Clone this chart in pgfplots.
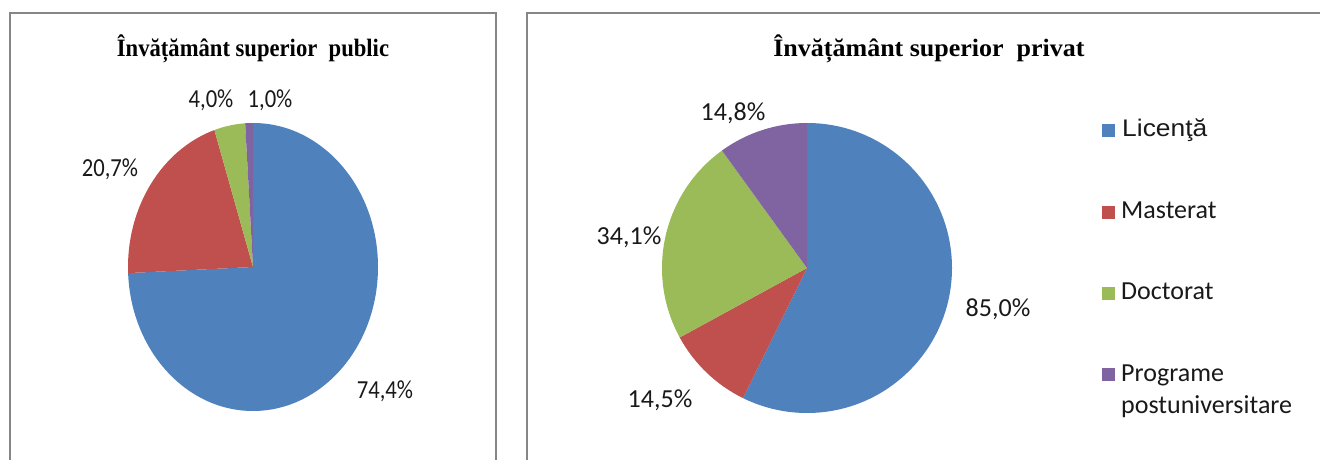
\documentclass[border=0pt]{standalone}
\usepackage{pgfplots}
\pgfplotsset{compat=1.18}
\usepackage{pgfplotstable}
\usepackage{graphicx}
\usepackage{fontspec}
\setmainfont{Liberation Serif}
\newfontfamily\calibri{Carlito}
\newfontfamily\arialfont{Liberation Sans}
\definecolor{cblue}{HTML}{4F81BD}
\definecolor{cred}{HTML}{C0504D}
\definecolor{cgreen}{HTML}{9BBB59}
\definecolor{cpurple}{HTML}{8064A2}
\definecolor{frame}{HTML}{868686}

\pgfplotstableread{
cat value
Licenta 74.4
Masterat 20.7
Doctorat 4.0
Programe 1.0
}\publicdata
\pgfplotstableread{
cat value
Licenta 85.0
Masterat 14.5
Doctorat 34.1
Programe 14.8
}\privatedata

\begin{document}
\begin{tikzpicture}
% read values
\pgfplotstablegetelem{0}{value}\of\publicdata\let\pubA\pgfplotsretval
\pgfplotstablegetelem{1}{value}\of\publicdata\let\pubB\pgfplotsretval
\pgfplotstablegetelem{2}{value}\of\publicdata\let\pubC\pgfplotsretval
\pgfplotstablegetelem{3}{value}\of\publicdata\let\pubD\pgfplotsretval
\pgfplotstablegetelem{0}{value}\of\privatedata\let\priA\pgfplotsretval
\pgfplotstablegetelem{1}{value}\of\privatedata\let\priB\pgfplotsretval
\pgfplotstablegetelem{2}{value}\of\privatedata\let\priC\pgfplotsretval
\pgfplotstablegetelem{3}{value}\of\privatedata\let\priD\pgfplotsretval
\pgfmathsetmacro\pubS{\pubA+\pubB+\pubC+\pubD}
\pgfmathsetmacro\pa{90-(\pubA/\pubS)*360}
\pgfmathsetmacro\pb{90-((\pubA+\pubB)/\pubS)*360}
\pgfmathsetmacro\pc{90-((\pubA+\pubB+\pubC)/\pubS)*360}
\pgfmathsetmacro\priS{\priA+\priB+\priC+\priD}
\pgfmathsetmacro\qa{90-(\priA/\priS)*360}
\pgfmathsetmacro\qb{90-((\priA+\priB)/\priS)*360}
\pgfmathsetmacro\qc{90-((\priA+\priB+\priC)/\priS)*360}
\begin{axis}[x=1pt, y=1pt, xmin=0, xmax=1320, ymin=0, ymax=460,
  hide axis, clip=false]
% frames
\draw[frame, line width=2.6pt] (axis cs:10,-10) -- (axis cs:10,447) -- (axis cs:496,447) -- (axis cs:496,-10);
\draw[frame, line width=2.6pt] (axis cs:527,-10) -- (axis cs:527,447) -- (axis cs:1330,447);
% public pie (ellipse 125 x 144)
\fill[cblue] (axis cs:253,193) -- +(90:125pt and 144pt) arc[start angle=90, end angle=\pa, x radius=125pt, y radius=144pt] -- cycle;
\fill[cred] (axis cs:253,193) -- +(\pa:125pt and 144pt) arc[start angle=\pa, end angle=\pb, x radius=125pt, y radius=144pt] -- cycle;
\fill[cgreen] (axis cs:253,193) -- +(\pb:125pt and 144pt) arc[start angle=\pb, end angle=\pc, x radius=125pt, y radius=144pt] -- cycle;
\fill[cpurple] (axis cs:253,193) -- +(\pc:125pt and 144pt) arc[start angle=\pc, end angle=-270, x radius=125pt, y radius=144pt] -- cycle;
% private pie (radius 145)
\fill[cblue] (axis cs:807,192) -- +(90:145pt) arc[start angle=90, end angle=\qa, radius=145pt] -- cycle;
\fill[cred] (axis cs:807,192) -- +(\qa:145pt) arc[start angle=\qa, end angle=\qb, radius=145pt] -- cycle;
\fill[cgreen] (axis cs:807,192) -- +(\qb:145pt) arc[start angle=\qb, end angle=\qc, radius=145pt] -- cycle;
\fill[cpurple] (axis cs:807,192) -- +(\qc:145pt) arc[start angle=\qc, end angle=-270, radius=145pt] -- cycle;
% titles
\node[anchor=base, inner sep=0pt] at (axis cs:253,403) {\scalebox{0.905}[1]{\bfseries\fontsize{25}{30}\selectfont Învățământ superior\ \ public}};
\node[anchor=base, inner sep=0pt] at (axis cs:929,403) {\scalebox{1.04}[1]{\bfseries\fontsize{25}{30}\selectfont Învățământ superior\ \ privat}};
% data labels
\begin{scope}[every node/.style={anchor=base, inner sep=0pt, font=\calibri\fontsize{26}{30}\selectfont, text=black!90}]
\node at (axis cs:385,61) {\scalebox{0.87}[1]{74,4\%}};
\node at (axis cs:110,283) {\scalebox{0.87}[1]{20,7\%}};
\node at (axis cs:211,352) {\scalebox{0.87}[1]{4,0\%}};
\node at (axis cs:270,352) {\scalebox{0.87}[1]{1,0\%}};
\node at (axis cs:998,143) {85,0\%};
\node at (axis cs:660,52) {14,5\%};
\node at (axis cs:629,215) {34,1\%};
\node at (axis cs:733,339) {14,8\%};
\end{scope}
% legend
\fill[cblue] (axis cs:1102,323) rectangle (axis cs:1115,336);
\fill[cred] (axis cs:1102,241) rectangle (axis cs:1115,254);
\fill[cgreen] (axis cs:1102,160) rectangle (axis cs:1115,173);
\fill[cpurple] (axis cs:1102,78.5) rectangle (axis cs:1115,91.5);
\begin{scope}[every node/.style={anchor=base west, inner sep=0pt, font=\calibri\fontsize{26}{32}\selectfont, text=black!90}]
\node at (axis cs:1122,323) {\scalebox{1.1}[1]{\arialfont\fontsize{24}{30}\selectfont Licenţă}};
\node at (axis cs:1121,241) {Masterat};
\node at (axis cs:1121,160) {Doctorat};
\node at (axis cs:1121,78.5) {Programe};
\node at (axis cs:1121,46.5) {postuniversitare};
\end{scope}
\end{axis}
\pgfresetboundingbox
\useasboundingbox (0,0) rectangle (1320pt,460pt);
\end{tikzpicture}
\end{document}
